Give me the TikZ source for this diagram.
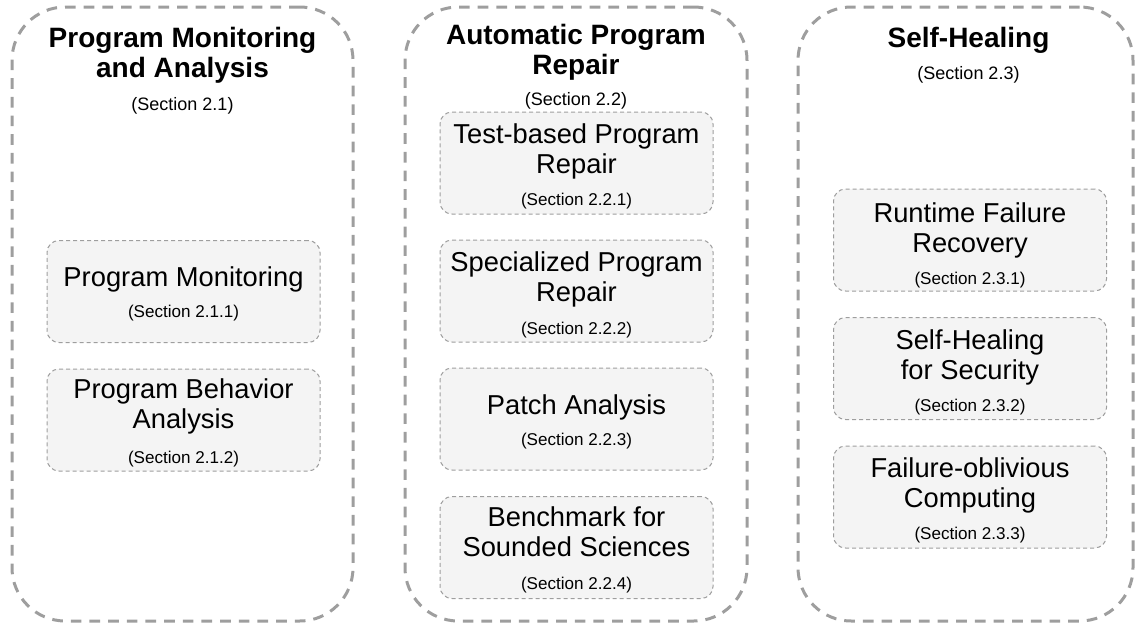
\documentclass[tikz,border=0pt]{standalone}
\usepackage{fontspec}
\setmainfont{Liberation Sans}
\usetikzlibrary{positioning}
\definecolor{mgrey}{HTML}{9E9E9E}
\definecolor{mfill}{HTML}{F4F4F4}
\tikzstyle{group}=[draw=mgrey, line width=2.25pt, dash pattern=on 8pt off 6pt, rounded corners=40pt, minimum height=460.5pt, inner sep=0pt]
\tikzstyle{topic}=[draw=mgrey, fill=mfill, line width=0.75pt, dash pattern=on 3pt off 2.25pt, rounded corners=9pt, minimum width=204.75pt, minimum height=76.5pt, inner sep=0pt]
\tikzstyle{gtitle}=[font=\bfseries\fontsize{21}{22.5}\selectfont, align=center, inner sep=0pt]
\tikzstyle{entry}=[font=\fontsize{20.5}{22.5}\selectfont, align=center, inner sep=0pt]
\tikzstyle{gsec}=[font=\fontsize{13.5}{16}\selectfont, inner sep=0pt]
\tikzstyle{sec}=[font=\fontsize{12.8}{15}\selectfont, inner sep=0pt]

\begin{document}
\begin{tikzpicture}[x=0.75pt, y=-0.75pt]
    \useasboundingbox (0,0) rectangle (1135,625);

    % program monitoring and analysis
    \node (g1) [group, minimum width=255.75pt] at (182.5,314) {};
    \node (g1t) [gtitle] at (182.5,55) {Program Monitoring\\and Analysis};
    \node (g1s) [gsec] at (182.5,106) {(Section 2.1)};
    \node (pm) [topic] at (183.5,291.5) {};
    \node (pmt) [entry] at (183.5,279) {Program Monitoring};
    \node (pms) [sec] at (183.5,313.5) {(Section 2.1.1)};
    \node (pb) [topic] at (183.5,420) {};
    \node (pbt) [entry] at (183.5,406) {Program Behavior\\Analysis};
    \node (pbs) [sec] at (183.5,459) {(Section 2.1.2)};

    % automatic program repair
    \node (g2) [group, minimum width=256.5pt] at (576,314) {};
    \node (g2t) [gtitle] at (576,52) {Automatic Program\\Repair};
    \node (g2s) [gsec] at (576,100.5) {(Section 2.2)};
    \node (tb) [topic] at (576.5,163) {};
    \node (tbt) [entry] at (576.5,151) {Test-based Program\\Repair};
    \node (tbs) [sec] at (576.5,201) {(Section 2.2.1)};
    \node (sp) [topic] at (576.5,291) {};
    \node (spt) [entry] at (576.5,279) {Specialized Program\\Repair};
    \node (sps) [sec] at (576.5,330.5) {(Section 2.2.2)};
    \node (pa) [topic] at (576.5,419) {};
    \node (pat) [entry] at (576.5,407) {Patch Analysis};
    \node (pas) [sec] at (576.5,441) {(Section 2.2.3)};
    \node (bm) [topic] at (576.5,547.5) {};
    \node (bmt) [entry] at (576.5,531.5) {Benchmark for\\Sounded Sciences};
    \node (bms) [sec] at (576.5,585) {(Section 2.2.4)};

    % self-healing
    \node (g3) [group, minimum width=251.25pt] at (965.5,314) {};
    \node (g3t) [gtitle] at (968.5,40) {Self-Healing};
    \node (g3s) [gsec] at (968.5,75) {(Section 2.3)};
    \node (rf) [topic] at (970,240) {};
    \node (rft) [entry] at (970,230) {Runtime Failure\\Recovery};
    \node (rfs) [sec] at (970,280) {(Section 2.3.1)};
    \node (sh) [topic] at (970,368.5) {};
    \node (sht) [entry] at (970,357) {Self-Healing\\for Security};
    \node (shs) [sec] at (970,407) {(Section 2.3.2)};
    \node (fo) [topic] at (970,497) {};
    \node (fot) [entry] at (970,485.5) {Failure-oblivious\\Computing};
    \node (fos) [sec] at (970,535) {(Section 2.3.3)};
\end{tikzpicture}
\end{document}
